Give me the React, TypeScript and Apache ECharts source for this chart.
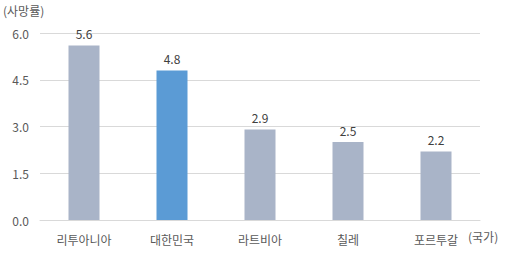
import React, { useEffect, useRef } from "react";
import * as echarts from "echarts";

const categories = ["리투아니아", "대한민국", "라트비아", "칠레", "포르투갈"];
const values = [5.6, 4.8, 2.9, 2.5, 2.2];
const highlight = "대한민국";

export default function App() {
  const ref = useRef<HTMLDivElement>(null);
  useEffect(() => {
    const chart = echarts.init(ref.current!, undefined, { renderer: "svg" });
    const font = "'Noto Sans CJK KR', 'Noto Sans', sans-serif";
    chart.setOption({
      animation: false,
      textStyle: { fontFamily: font },
      grid: { left: 40, right: 29, top: 33, bottom: 35 },
      graphic: [
        { type: "text", left: 3, top: 4, style: { text: "(사망률)", fontSize: 12, fill: "#595959", fontFamily: font } },
        { type: "text", left: 468, top: 230, style: { text: "(국가)", fontSize: 12, fill: "#595959", fontFamily: font } },
      ],
      xAxis: {
        type: "category",
        data: categories,
        axisLine: { lineStyle: { color: "#D9D9D9" } },
        axisTick: { show: false },
        axisLabel: { color: "#595959", fontSize: 12, margin: 13, fontFamily: font },
      },
      yAxis: {
        type: "value",
        min: 0,
        max: 6,
        interval: 1.5,
        axisLabel: { color: "#595959", fontSize: 12, margin: 11, formatter: (v: number) => v.toFixed(1) },
        splitLine: { lineStyle: { color: "#D9D9D9" } },
        axisLine: { show: false },
        axisTick: { show: false },
      },
      series: [
        {
          type: "bar",
          barWidth: 31,
          data: values.map((v, i) => ({
            value: v,
            itemStyle: { color: categories[i] === highlight ? "#5B9BD5" : "#A9B4C8" },
          })),
          label: { show: true, position: "top", color: "#404040", fontSize: 12, distance: 6, formatter: (p: any) => p.value.toFixed(1) },
        },
      ],
    });
    return () => chart.dispose();
  }, []);
  return <div ref={ref} style={{ width: 509, height: 255, position: "absolute", left: 0, top: 0 }} />;
}
